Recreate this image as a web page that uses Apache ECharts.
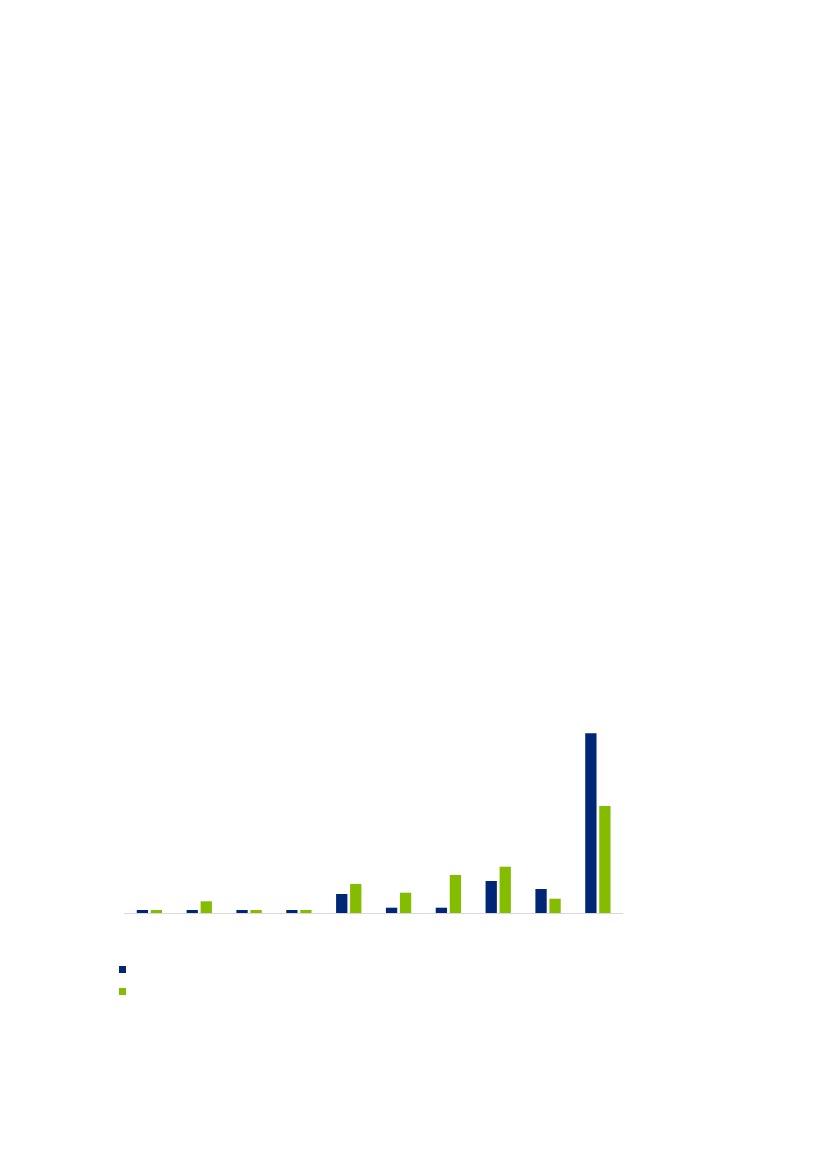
<!DOCTYPE html>
<html>
<head>
<meta charset="utf-8">
<script src="https://cdn.jsdelivr.net/npm/echarts@6/dist/echarts.min.js"></script>
<style>html,body{margin:0;padding:0;background:#fff;}#c{width:827px;height:1169px;}</style>
</head>
<body>
<div id="c"></div>
<script>
var categories = ['1','2','3','4','5','6','7','8','9','10'];
var seriesNames = ['A','B'];
var valuesA = [3, 3, 3, 3, 19, 5.3, 5.3, 32, 24, 179.7];
var valuesB = [3, 11.7, 3, 3, 29, 20.3, 38, 46.3, 14.3, 107];
var colors = ['#002776', '#84bd00'];

var chart = echarts.init(document.getElementById('c'), null, {renderer: 'canvas'});
chart.setOption({
  animation: false,
  backgroundColor: '#ffffff',
  color: colors,
  grid: {left: 124.5, right: 204.2, top: 713, bottom: 256, containLabel: false},
  legend: {
    orient: 'vertical',
    left: 119,
    top: 966,
    icon: 'rect',
    itemWidth: 7,
    itemHeight: 7,
    itemGap: 15,
    padding: 0,
    formatter: function(){ return ''; },
    textStyle: {fontSize: 1, lineHeight: 7},
    data: seriesNames
  },
  xAxis: {
    type: 'category',
    data: categories,
    axisLine: {show: true, lineStyle: {color: '#d9d9d9', width: 1}},
    axisTick: {show: false},
    axisLabel: {show: false},
    splitLine: {show: false}
  },
  yAxis: {
    type: 'value',
    min: 0,
    max: 200,
    show: false,
    splitLine: {show: false}
  },
  series: [
    {name: seriesNames[0], type: 'bar', data: valuesA, barWidth: 11.3, barGap: '24%'},
    {name: seriesNames[1], type: 'bar', data: valuesB, barWidth: 11.3, barGap: '24%'}
  ]
});
</script>
</body>
</html>
